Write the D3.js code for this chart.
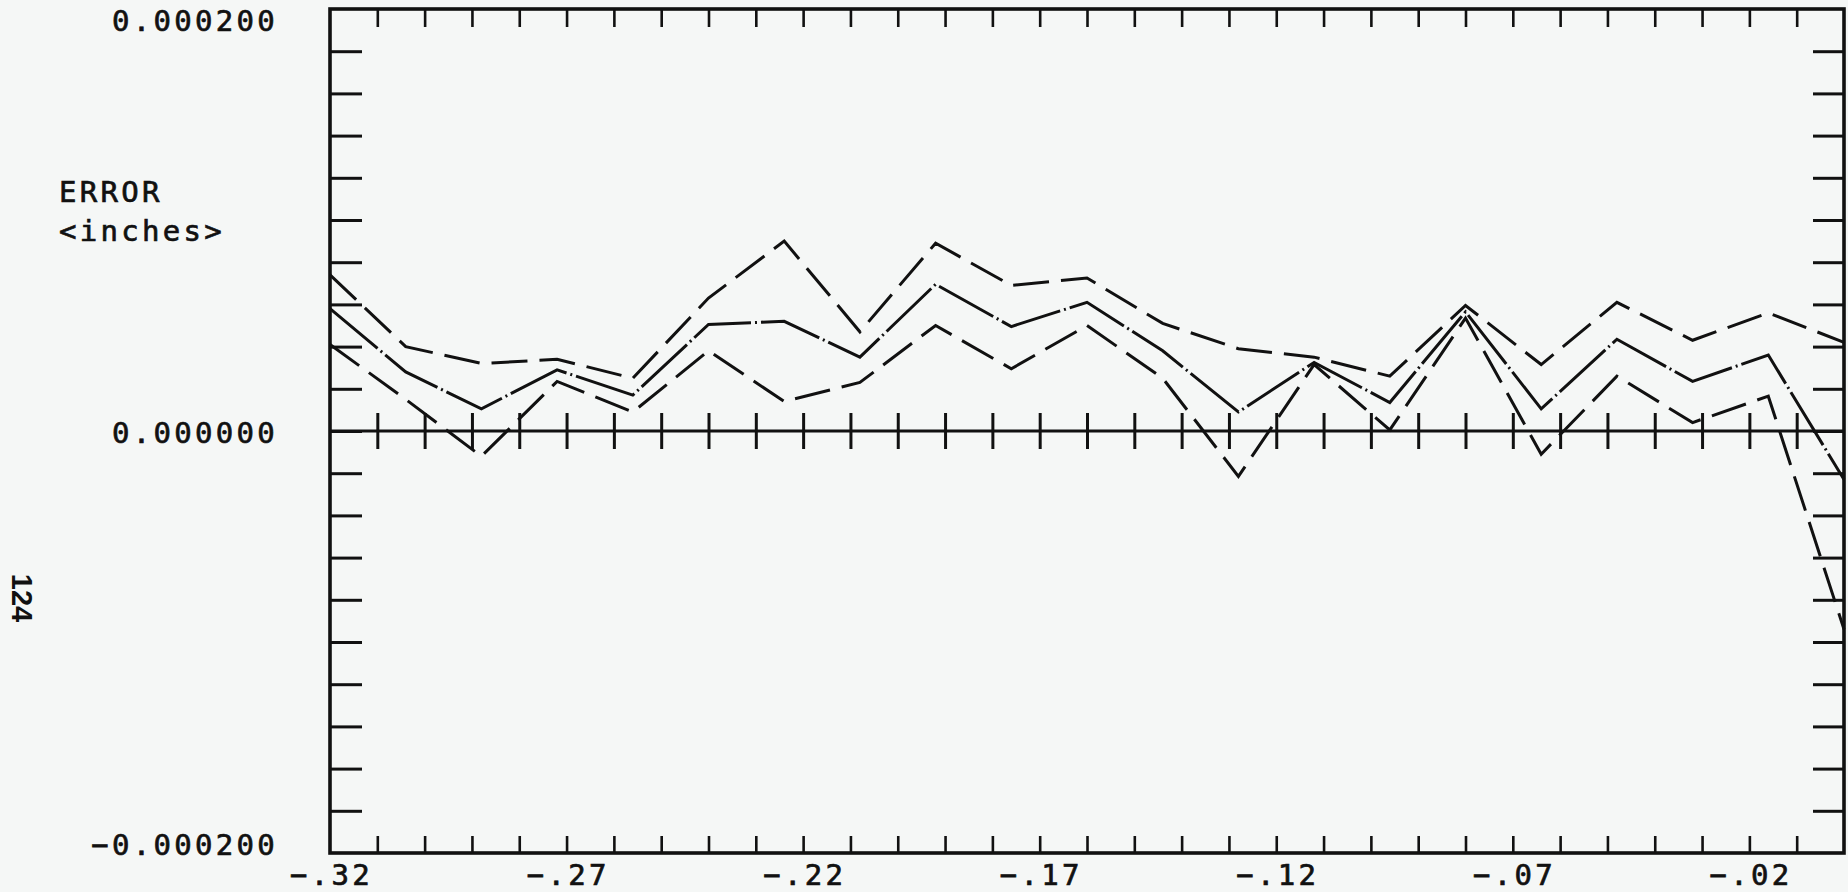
<!DOCTYPE html>
<html>
<head>
<meta charset="utf-8">
<script src="https://cdn.jsdelivr.net/npm/d3@7"></script>
<style>
  html, body { margin: 0; padding: 0; background: #f5f7f6; }
  svg { display: block; }
  .lbl { font-family: "DejaVu Sans Mono", monospace; font-size: 29px; letter-spacing: 3.3px;
         fill: #111; stroke: #111; stroke-width: 0.7px; }
</style>
</head>
<body>
<script>
// x positions of the measured points
const xValues = [-0.32, -0.304, -0.288, -0.272, -0.256, -0.24, -0.224, -0.208, -0.192, -0.176,
                 -0.16, -0.144, -0.128, -0.112, -0.096, -0.08, -0.064, -0.048, -0.032, -0.016, 0.0];

// error curves (inches)
const upperErr  = [7.4e-5, 4.0e-5, 3.2e-5, 3.4e-5, 2.5e-5, 6.3e-5, 9.0e-5, 4.7e-5, 8.9e-5, 6.9e-5,
                   7.25e-5, 5.1e-5, 3.9e-5, 3.5e-5, 2.6e-5, 5.95e-5, 3.15e-5, 6.1e-5, 4.3e-5, 5.6e-5, 4.2e-5];
const middleErr = [5.8e-5, 2.8e-5, 1.05e-5, 2.9e-5, 1.7e-5, 5.05e-5, 5.2e-5, 3.5e-5, 6.95e-5, 4.95e-5,
                   6.1e-5, 3.8e-5, 0.9e-5, 3.25e-5, 1.35e-5, 5.65e-5, 1.05e-5, 4.35e-5, 2.35e-5, 3.6e-5, -2.3e-5];
const lowerErr  = [4.1e-5, 1.5e-5, -1.2e-5, 2.35e-5, 0.9e-5, 3.8e-5, 1.4e-5, 2.3e-5, 5.0e-5, 2.95e-5,
                   5.0e-5, 2.5e-5, -2.15e-5, 3.15e-5, 0.05e-5, 5.35e-5, -1.1e-5, 2.6e-5, 0.4e-5, 1.65e-5, -9.4e-5];

// axis labels
const yLabelValues = [0.0002, 0, -0.0002];
const xLabelValues = [-0.32, -0.27, -0.22, -0.17, -0.12, -0.07, -0.02];
const xLabels = ["−.32", "−.27", "−.22", "−.17", "−.12", "−.07", "−.02"];

const width = 1848, height = 892;
const plotLeft = 330, plotRight = 1844, plotTop = 9, plotBottom = 853;
const INK = '#111';

const svg = d3.select('body').append('svg')
    .attr('width', width)
    .attr('height', height);

const x = d3.scaleLinear().domain([-0.32, 0]).range([plotLeft, plotRight]);
const y = d3.scaleLinear().domain([-0.0002, 0.0002]).range([plotBottom, plotTop]);

// inner ticks on all four sides
const yTicks = y.ticks(20).filter(d => Math.abs(d) < 0.00019);
const xTicks = x.ticks(32).filter(d => d > -0.3195 && d < -0.0005);

function tickAxis(axis, tx, ty, w) {
    const g = svg.append('g')
        .attr('transform', `translate(${tx},${ty})`)
        .call(axis.tickFormat(''));
    g.select('.domain').remove();
    g.selectAll('.tick line')
        .attr('stroke', INK)
        .attr('stroke-width', w);
    return g;
}

tickAxis(d3.axisLeft(y).tickValues(yTicks).tickSize(-32), plotLeft, 0, 3);
tickAxis(d3.axisRight(y).tickValues(yTicks).tickSize(-31), plotRight, 0, 3);
tickAxis(d3.axisTop(x).tickValues(xTicks).tickSize(-18), 0, plotTop, 2.6);
tickAxis(d3.axisBottom(x).tickValues(xTicks).tickSize(-17), 0, plotBottom, 2.6);
// ticks crossing the zero line
tickAxis(d3.axisBottom(x).tickValues(xTicks).tickSize(18), 0, y(0), 3);
tickAxis(d3.axisTop(x).tickValues(xTicks).tickSize(18), 0, y(0), 3);

// zero line
svg.append('line')
    .attr('x1', plotLeft).attr('x2', plotRight)
    .attr('y1', y(0)).attr('y2', y(0))
    .attr('stroke', INK)
    .attr('stroke-width', 3.2);

// frame
svg.append('rect')
    .attr('x', plotLeft).attr('y', plotTop)
    .attr('width', plotRight - plotLeft).attr('height', plotBottom - plotTop)
    .attr('fill', 'none')
    .attr('stroke', INK)
    .attr('stroke-width', 3.6);

// data curves
const line = d3.line()
    .x((d, i) => x(xValues[i]))
    .y(d => y(d));

const curves = [
    { values: upperErr,  dash: '36,12' },
    { values: middleErr, dash: '62,4,2,4' },
    { values: lowerErr,  dash: '36,12' }
];

curves.forEach(c => {
    svg.append('path')
        .datum(c.values)
        .attr('d', line)
        .attr('fill', 'none')
        .attr('stroke', INK)
        .attr('stroke-width', 3)
        .attr('stroke-linejoin', 'miter')
        .attr('stroke-dasharray', c.dash);
});

// y labels (top one sits below its tick, bottom one above)
const yFmt = d3.format('.6f');
const yLabelShift = d => d > 0 ? 22 : (d < 0 ? 2 : 12);
svg.selectAll('.ylab')
    .data(yLabelValues)
    .join('text')
    .attr('class', 'lbl ylab')
    .attr('text-anchor', 'end')
    .attr('x', 278)
    .attr('y', d => y(d) + yLabelShift(d))
    .text(d => yFmt(d));

// x labels
svg.selectAll('.xlab')
    .data(xLabelValues)
    .join('text')
    .attr('class', 'lbl xlab')
    .attr('text-anchor', 'middle')
    .attr('x', d => x(d) + 1.6)
    .attr('y', 885)
    .text((d, i) => xLabels[i]);

// axis title
svg.append('text')
    .attr('class', 'lbl')
    .attr('x', 59).attr('y', 202)
    .text('ERROR');
svg.append('text')
    .attr('class', 'lbl')
    .attr('x', 59).attr('y', 241)
    .text('<inches>');

// page number, rotated
svg.append('text')
    .attr('transform', 'translate(22,598) rotate(90)')
    .attr('text-anchor', 'middle')
    .attr('dominant-baseline', 'central')
    .style('font-family', '"Liberation Sans", sans-serif')
    .style('font-size', '29px')
    .style('font-weight', 'bold')
    .style('fill', INK)
    .text('124');
</script>
</body>
</html>
